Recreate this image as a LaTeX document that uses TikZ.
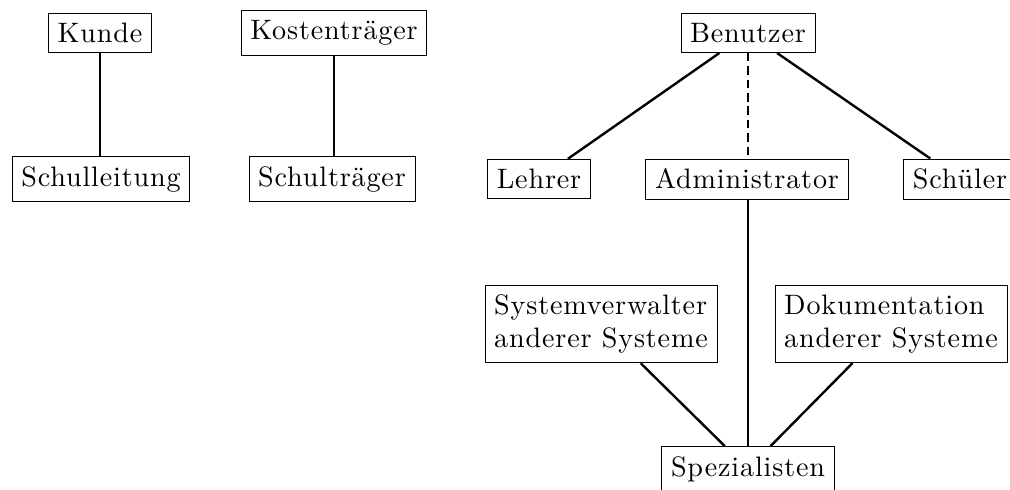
\documentclass[tikz,border=0pt]{standalone}
\usepackage{fontspec}
\setmainfont{lmroman10-regular}[Extension=.otf, LetterSpace=3]
\usepackage{tikz}
\usetikzlibrary{positioning}

\begin{document}
\begin{tikzpicture}[x=0.025cm, y=-0.025cm,
          box/.style={rectangle, draw, line width=0.6pt, inner xsep=6.5pt, inner ysep=7pt,
                      font=\fontsize{20}{23}\selectfont, align=left},
          link/.style={line width=1.7pt},
          maybe/.style={link, dash pattern=on 6pt off 3.5pt}
        ]
        \useasboundingbox (0,0) rectangle (1010,489);
        \clip (0,0) rectangle (1010,489);

        % Kunde / Schulleitung
        \node[box] (kunde) at (100,33) {Kunde};
        \node[box] (leitung) at (101,179) {Schulleitung};
        \draw[link] (kunde) -- (kunde |- leitung.north);

        % Kostentraeger / Schultraeger
        \node[box] (kosten) at (334,33) {Kostenträger};
        \node[box] (traeger) at (332,179) {Schulträger};
        \draw[link] (kosten) -- (kosten |- traeger.north);

        % Benutzer und Rollen
        \node[box] (benutzer) at (748,33) {Benutzer};
        \node[box] (lehrer) at (539,179) {Lehrer};
        \node[box] (admin) at (747,179) {Administrator};
        \node[box] (schueler) at (960,179) {Schüler};
        \draw[link] (benutzer) -- (lehrer);
        \draw[maybe] (benutzer) -- (benutzer |- admin.north);
        \draw[link] (benutzer) -- (schueler);

        % Spezialisten
        \node[box] (sysverw) at (601,324) {Systemverwalter\\anderer Systeme};
        \node[box] (doku) at (891,324) {Dokumentation\\anderer Systeme};
        \node[box] (spez) at (748,469) {Spezialisten};
        \draw[link] (spez) -- (spez |- admin.south);
        \draw[link] (sysverw) -- (spez);
        \draw[link] (doku) -- (spez);
      \end{tikzpicture}
\end{document}
